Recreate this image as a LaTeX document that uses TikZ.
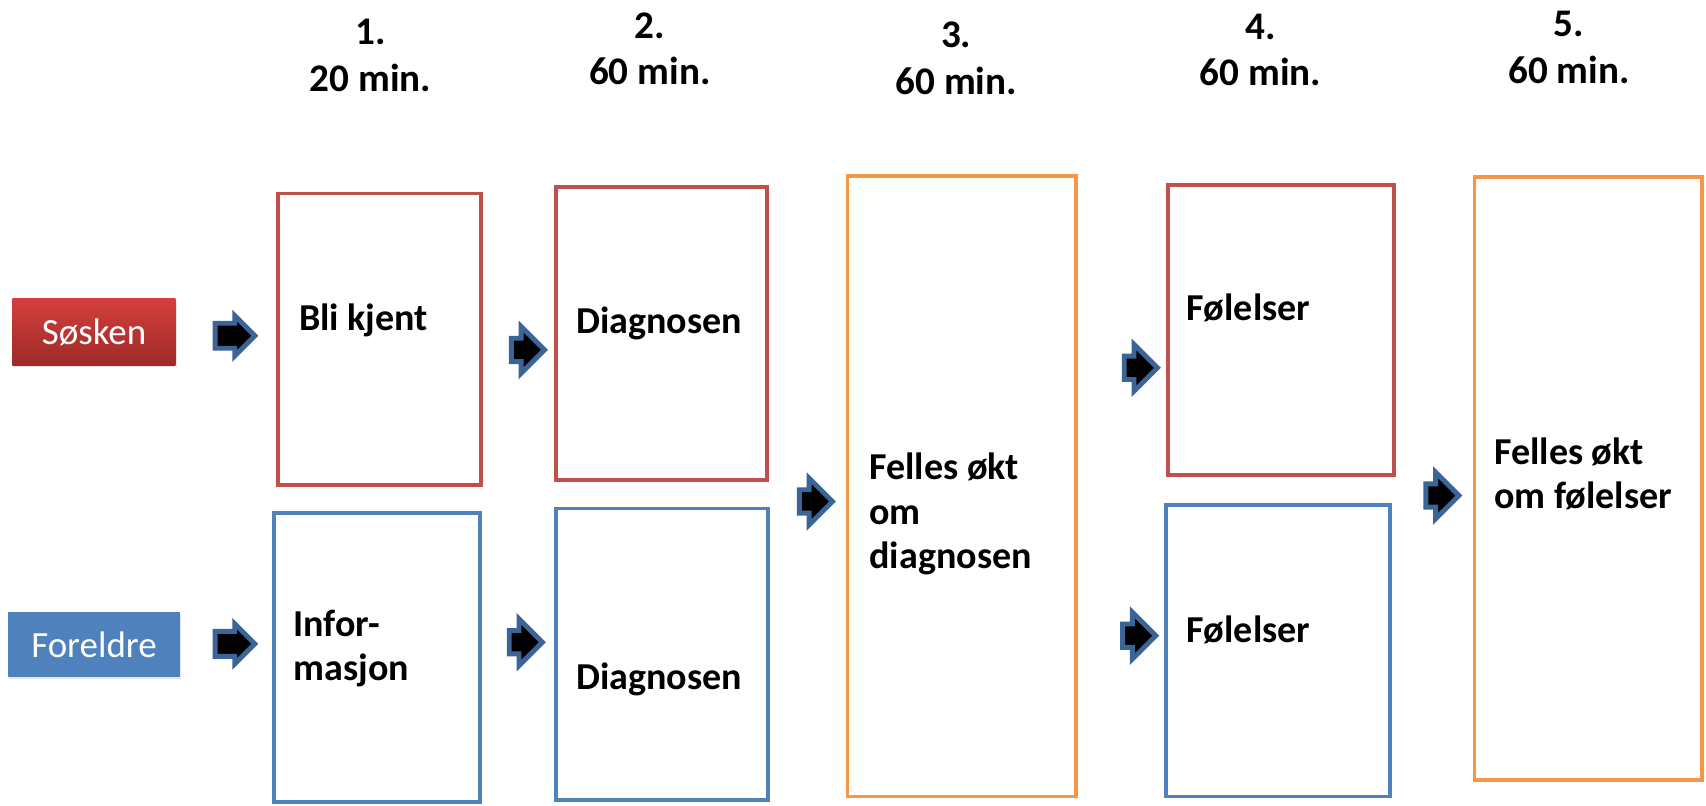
\documentclass[tikz,border=0pt]{standalone}
\usepackage{fontspec}
\setmainfont{Carlito}
\usetikzlibrary{shapes.arrows,shadows}
\definecolor{sredline}{HTML}{C0504D}
\definecolor{fblueline}{HTML}{4F81BD}
\definecolor{fellesline}{HTML}{F79646}
\definecolor{arrowline}{HTML}{3B6497}
\definecolor{sredtop}{HTML}{D43F3C}
\definecolor{sredbot}{HTML}{9C2A28}
\begin{document}
\begin{tikzpicture}[x=1pt,y=-1pt,
    redbox/.style={draw=sredline,line width=3.5pt,inner sep=0pt},
    bluebox/.style={draw=fblueline,line width=3.5pt,inner sep=0pt},
    orangebox/.style={draw=fellesline,line width=3.5pt,inner sep=0pt},
    boxtext/.style={anchor=west,align=left,inner sep=0pt,font=\bfseries\fontsize{35}{41}\selectfont},
    headtext/.style={align=center,inner sep=0pt,font=\bfseries\fontsize{36}{43}\selectfont},
    grouplabel/.style={text=white,inner sep=0pt,font=\fontsize{34}{40}\selectfont,
        drop shadow={fill=black!20,shadow xshift=1pt,shadow yshift=-2pt}},
    blockarrow/.style={single arrow,draw=arrowline,fill=black,line width=4.5pt,
        inner xsep=0pt,minimum width=0pt},
    widearrow/.style={blockarrow,inner ysep=9.25pt,single arrow head extend=7pt,minimum height=36.5pt},
    tallarrow/.style={blockarrow,inner ysep=8.5pt,single arrow head extend=10.75pt,minimum height=30.5pt}]
    \useasboundingbox (0,0) rectangle (1570,741);

    % headers
    \node[headtext] (h1) at (341,51) {1.\\20 min.};
    \node[headtext] (h2) at (598,45) {2.\\60 min.};
    \node[headtext] (h3) at (880,54) {3.\\60 min.};
    \node[headtext] (h4) at (1160,46) {4.\\60 min.};
    \node[headtext] (h5) at (1444,44) {5.\\60 min.};

    % groups
    \node[grouplabel,top color=sredtop,bottom color=sredbot,minimum width=150pt,minimum height=61pt] (sosken) at (86.5,305.5) {Søsken\hspace{12pt}};
    \node[grouplabel,fill=fblueline,minimum width=159pt,minimum height=60pt] (foreldre) at (86.5,593) {Foreldre};

    % sessions
    \node[redbox,minimum width=187pt,minimum height=268pt] (bli) at (349.5,312) {};
    \node[bluebox,minimum width=190pt,minimum height=266pt] (info) at (347,605) {};
    \node[redbox,minimum width=194pt,minimum height=270pt] (diags) at (609,307) {};
    \node[bluebox,minimum width=195pt,minimum height=268pt] (diagf) at (609.5,602) {};
    \node[orangebox,minimum width=210pt,minimum height=571pt] (fellesdiag) at (885,447.5) {};
    \node[redbox,minimum width=208pt,minimum height=267pt] (fols) at (1179,303.5) {};
    \node[bluebox,minimum width=206pt,minimum height=268pt] (folf) at (1176,599) {};
    \node[orangebox,minimum width=209pt,minimum height=555pt] (fellesfol) at (1461.5,440.5) {};

    \node[boxtext] (blitext) at (275,295) {Bli kjent};
    \node[boxtext] (infotext) at (270,597) {Infor-\\masjon};
    \node[boxtext] (diagstext) at (530,298) {Diagnosen};
    \node[boxtext] (diagftext) at (530,625) {Diagnosen};
    \node[boxtext] (fellesdiagtext) at (800,473) {Felles økt\\om\\diagnosen};
    \node[boxtext] (folstext) at (1092,283) {Følelser};
    \node[boxtext] (folftext) at (1092,580) {Følelser};
    \node[boxtext] (fellesfoltext) at (1375,436) {Felles økt\\om følelser};

    % arrows
    \node[widearrow] (a1s) at (210.5,309) {};
    \node[widearrow] (a1f) at (210.5,592.5) {};
    \node[tallarrow] (a2s) at (480.5,322) {};
    \node[tallarrow] (a2f) at (478.5,591) {};
    \node[tallarrow] (a3) at (745.5,461.5) {};
    \node[tallarrow] (a4s) at (1044.5,338.5) {};
    \node[tallarrow] (a4f) at (1043,585) {};
    \node[tallarrow] (a5) at (1322,456) {};
\end{tikzpicture}
\end{document}
